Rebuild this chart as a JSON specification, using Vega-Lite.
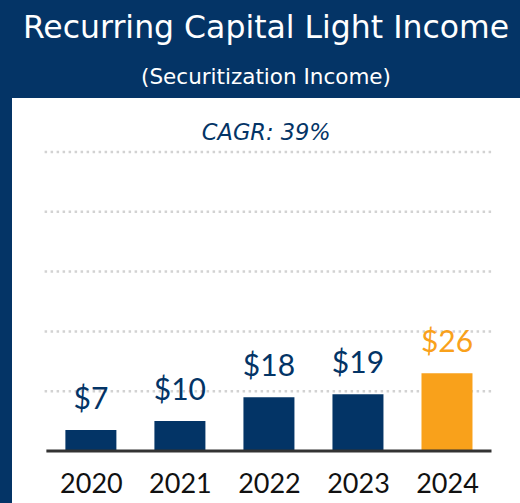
{
  "$schema": "https://vega.github.io/schema/vega-lite/v6.json",
  "width": 508,
  "height": 405,
  "autosize": {"type": "none"},
  "padding": {"left": 12, "top": 98, "right": 0, "bottom": 0},
  "background": "#043466",
  "view": {"fill": "#ffffff", "stroke": null},
  "title": {
    "text": "Recurring Capital Light Income",
    "subtitle": "(Securitization Income)",
    "color": "#ffffff",
    "subtitleColor": "#ffffff",
    "font": "DejaVu Sans",
    "subtitleFont": "DejaVu Sans",
    "fontSize": 31.5,
    "subtitleFontSize": 21.5,
    "fontWeight": "normal",
    "anchor": "middle",
    "offset": 9.5,
    "subtitlePadding": 22.5
  },
  "datasets": {
    "bars": [
      {"year": 2020, "value": 7, "label": "$7"},
      {"year": 2021, "value": 10, "label": "$10"},
      {"year": 2022, "value": 18, "label": "$18"},
      {"year": 2023, "value": 19, "label": "$19"},
      {"year": 2024, "value": 26, "label": "$26"}
    ],
    "grid": [{"v": 20}, {"v": 40}, {"v": 60}, {"v": 80}, {"v": 100}],
    "base": [{"v": 0}],
    "note": [{"text": "CAGR: 39%"}]
  },
  "layer": [
    {
      "data": {"name": "grid"},
      "mark": {"type": "rule", "color": "#d2d2d2", "strokeWidth": 2.5, "strokeDash": [2.5, 3.5]},
      "encoding": {
        "y": {"field": "v", "type": "quantitative", "scale": {"domain": [-17.39, 118.06], "nice": false, "zero": false}, "axis": null},
        "x": {"datum": 2019.48, "type": "quantitative", "scale": {"domain": [2019.17, 2024.764], "nice": false, "zero": false},
          "axis": {"values": [2020, 2021, 2022, 2023, 2024], "format": "d", "ticks": false, "domain": false, "grid": false, "labelFont": "Lato", "labelFontSize": 27, "labelColor": "#111111", "labelPadding": 20, "labelFlush": false, "labelOverlap": false, "offset": -52, "title": null}},
        "x2": {"datum": 2024.5}
      }
    },
    {
      "data": {"name": "bars"},
      "mark": {"type": "bar", "width": 51},
      "encoding": {
        "x": {"field": "year", "type": "quantitative", "scale": {"domain": [2019.17, 2024.764], "nice": false, "zero": false},
          "axis": {"values": [2020, 2021, 2022, 2023, 2024], "format": "d", "ticks": false, "domain": false, "grid": false, "labelFont": "Lato", "labelFontSize": 27, "labelColor": "#111111", "labelPadding": 20, "labelFlush": false, "labelOverlap": false, "offset": -52, "title": null}},
        "y": {"field": "value", "type": "quantitative", "scale": {"domain": [-17.39, 118.06], "nice": false, "zero": false}, "axis": null},
        "y2": {"datum": 0},
        "color": {"condition": {"test": "datum.year === 2024", "value": "#F9A11B"}, "value": "#033466"}
      }
    },
    {
      "data": {"name": "base"},
      "mark": {"type": "rule", "color": "#333333", "strokeWidth": 3},
      "encoding": {
        "y": {"field": "v", "type": "quantitative", "scale": {"domain": [-17.39, 118.06], "nice": false, "zero": false}, "axis": null},
        "x": {"datum": 2019.5, "type": "quantitative", "scale": {"domain": [2019.17, 2024.764], "nice": false, "zero": false},
          "axis": {"values": [2020, 2021, 2022, 2023, 2024], "format": "d", "ticks": false, "domain": false, "grid": false, "labelFont": "Lato", "labelFontSize": 27, "labelColor": "#111111", "labelPadding": 20, "labelFlush": false, "labelOverlap": false, "offset": -52, "title": null}},
        "x2": {"datum": 2024.5}
      }
    },
    {
      "data": {"name": "bars"},
      "mark": {"type": "text", "font": "Lato", "fontSize": 30, "baseline": "alphabetic", "dy": -21},
      "encoding": {
        "x": {"field": "year", "type": "quantitative", "scale": {"domain": [2019.17, 2024.764], "nice": false, "zero": false},
          "axis": {"values": [2020, 2021, 2022, 2023, 2024], "format": "d", "ticks": false, "domain": false, "grid": false, "labelFont": "Lato", "labelFontSize": 27, "labelColor": "#111111", "labelPadding": 20, "labelFlush": false, "labelOverlap": false, "offset": -52, "title": null}},
        "y": {"field": "value", "type": "quantitative", "scale": {"domain": [-17.39, 118.06], "nice": false, "zero": false}, "axis": null},
        "text": {"field": "label"},
        "color": {"condition": {"test": "datum.year === 2024", "value": "#F9A11B"}, "value": "#033466"}
      }
    },
    {
      "data": {"name": "note"},
      "mark": {"type": "text", "font": "DejaVu Sans", "fontSize": 22.5, "fontStyle": "italic", "baseline": "alphabetic", "color": "#033466"},
      "encoding": {
        "x": {"datum": 2021.97, "type": "quantitative", "scale": {"domain": [2019.17, 2024.764], "nice": false, "zero": false},
          "axis": {"values": [2020, 2021, 2022, 2023, 2024], "format": "d", "ticks": false, "domain": false, "grid": false, "labelFont": "Lato", "labelFontSize": 27, "labelColor": "#111111", "labelPadding": 20, "labelFlush": false, "labelOverlap": false, "offset": -52, "title": null}},
        "y": {"datum": 104, "type": "quantitative", "scale": {"domain": [-17.39, 118.06], "nice": false, "zero": false}, "axis": null},
        "text": {"field": "text"}
      }
    }
  ]
}
